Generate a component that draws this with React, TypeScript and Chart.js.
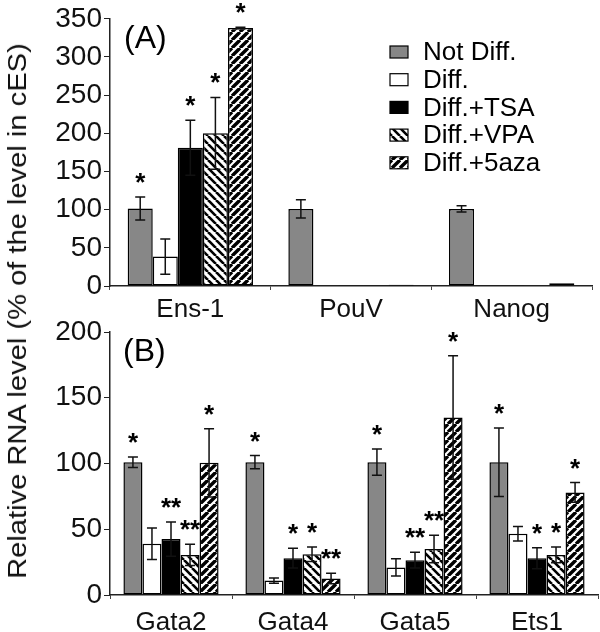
import React, { useEffect, useRef } from 'react';
import { Chart, registerables } from 'chart.js';

Chart.register(...registerables);

const FONT = "'Liberation Sans', Arial, Helvetica, sans-serif";

const seriesNames = ['Not Diff.', 'Diff.', 'Diff.+TSA', 'Diff.+VPA', 'Diff.+5aza'];

// Panel A
const topCategories = ['Ens-1', 'PouV', 'Nanog'];
const topNotDiff = [101.5, 101, 101];
const topNotDiffErr = [15, 12, 4];
const topDiff = [38.5, 0.6, 0.3];
const topDiffErr = [23, 0, 0];
const topTSA = [181, 0.4, 0.3];
const topTSAErr = [36, 0, 0];
const topVPA = [200, 1, 0.5];
const topVPAErr = [47, 0, 0];
const topAza = [338, 1.8, 3.5];
const topAzaErr = [1, 0, 0];
const topTicks = [0, 50, 100, 150, 200, 250, 300, 350];
const topStarsNotDiff = ['*', '', ''];
const topStarsDiff = ['', '', ''];
const topStarsTSA = ['*', '', ''];
const topStarsVPA = ['*', '', ''];
const topStarsAza = ['*', '', ''];

// Panel B
const bottomCategories = ['Gata2', 'Gata4', 'Gata5', 'Ets1'];
const bottomNotDiff = [101, 101, 101, 101];
const bottomNotDiffErr = [4, 5, 10, 26];
const bottomDiff = [39, 11, 21, 46.5];
const bottomDiffErr = [12, 2, 6.5, 5.5];
const bottomTSA = [42.5, 28, 26.5, 28];
const bottomTSAErr = [13, 7.5, 6, 8];
const bottomVPA = [30.5, 31, 35, 30.5];
const bottomVPAErr = [8, 5.5, 10.5, 6];
const bottomAza = [100.5, 12.5, 135, 78];
const bottomAzaErr = [26, 4, 47, 7.5];
const bottomTicks = [0, 50, 100, 150, 200];
const bottomStarsNotDiff = ['*', '*', '*', '*'];
const bottomStarsDiff = ['', '', '', ''];
const bottomStarsTSA = ['**', '*', '**', '*'];
const bottomStarsVPA = ['**', '*', '**', '*'];
const bottomStarsAza = ['*', '**', '*', '*'];

const yTitle = 'Relative RNA level (% of the level in cES)';

function makeStripe(dir: 'back' | 'fwd', s: number, lw: number): CanvasPattern {
  const c = document.createElement('canvas');
  c.width = s;
  c.height = s;
  const g = c.getContext('2d')!;
  g.fillStyle = '#fff';
  g.fillRect(0, 0, s, s);
  g.strokeStyle = '#000';
  g.lineWidth = lw;
  g.beginPath();
  for (let k = -1; k <= 1; k++) {
    if (dir === 'fwd') {
      g.moveTo(k * s, s);
      g.lineTo(k * s + s, 0);
    } else {
      g.moveTo(k * s, 0);
      g.lineTo(k * s + s, s);
    }
  }
  g.stroke();
  return g.createPattern(c, 'repeat')!;
}

function makeFills() {
  return ['#878787', '#ffffff', '#000000', makeStripe('back', 8, 2.6), makeStripe('fwd', 8, 3.4)];
}

function errorPlugin(errors: number[][], stars: string[][]) {
  return {
    id: 'errs',
    afterDatasetsDraw(chart: any) {
      const ctx = chart.ctx as CanvasRenderingContext2D;
      const ys = chart.scales.y;
      ctx.save();
      chart.data.datasets.forEach((ds: any, di: number) => {
        const meta = chart.getDatasetMeta(di);
        meta.data.forEach((bar: any, i: number) => {
          const v = ds.data[i] as number;
          const e = errors[di][i];
          const x = bar.x;
          let topY = ys.getPixelForValue(v);
          if (e > 0) {
            const yt = ys.getPixelForValue(v + e);
            const yb = ys.getPixelForValue(Math.max(0, v - e));
            ctx.strokeStyle = '#111';
            ctx.lineWidth = 1.5;
            ctx.beginPath();
            ctx.moveTo(x, yt);
            ctx.lineTo(x, yb);
            ctx.moveTo(x - 5, yt);
            ctx.lineTo(x + 5, yt);
            ctx.moveTo(x - 5, yb);
            ctx.lineTo(x + 5, yb);
            ctx.stroke();
            topY = yt;
          }
          const s = stars[di][i];
          if (s) {
            ctx.fillStyle = '#000';
            ctx.font = `bold 26px ${FONT}`;
            ctx.textAlign = 'center';
            ctx.textBaseline = 'alphabetic';
            ctx.fillText(s, x, topY - 6);
          }
        });
      });
      ctx.restore();
    },
  };
}

function labelPlugin(text: string, x: number, y: number) {
  return {
    id: 'panelLabel',
    afterDraw(chart: any) {
      const ctx = chart.ctx as CanvasRenderingContext2D;
      ctx.save();
      ctx.fillStyle = '#000';
      ctx.font = `32px ${FONT}`;
      ctx.textAlign = 'left';
      ctx.textBaseline = 'middle';
      ctx.fillText(text, x, y);
      ctx.restore();
    },
  };
}

function legendPlugin(fills: any[]) {
  return {
    id: 'customLegend',
    afterDraw(chart: any) {
      const ctx = chart.ctx as CanvasRenderingContext2D;
      ctx.save();
      const x0 = 390;
      const y0 = 52;
      const step = 27.7;
      seriesNames.forEach((name, i) => {
        const cy = y0 + i * step;
        ctx.fillStyle = fills[i];
        ctx.fillRect(x0, cy - 6, 18, 12);
        ctx.strokeStyle = '#000';
        ctx.lineWidth = 1.2;
        ctx.strokeRect(x0, cy - 6, 18, 12);
        ctx.fillStyle = '#000';
        ctx.font = `26px ${FONT}`;
        ctx.textAlign = 'left';
        ctx.textBaseline = 'middle';
        ctx.fillText(name, x0 + 33, cy + 1);
      });
      ctx.restore();
    },
  };
}

function buildConfig(
  categories: string[],
  series: number[][],
  ticks: number[],
  fills: any[],
  padding: any,
  xHeight: number,
  xPad: number,
  plugins: any[]
): any {
  return {
    type: 'bar',
    data: {
      labels: categories,
      datasets: series.map((d, i) => ({
        label: seriesNames[i],
        data: d,
        backgroundColor: fills[i],
        borderColor: '#000',
        borderWidth: 1.5,
        borderSkipped: false,
        categoryPercentage: 0.78,
        barPercentage: 1,
      })),
    },
    options: {
      responsive: false,
      animation: false,
      layout: { padding },
      plugins: { legend: { display: false }, tooltip: { enabled: false } },
      scales: {
        x: {
          grid: { offset: true, drawOnChartArea: false, drawTicks: true, tickLength: 4, color: '#444' },
          border: { display: true, color: '#222', width: 1.5 },
          ticks: { font: { family: FONT, size: 26 }, color: '#111', padding: xPad, maxRotation: 0 },
          afterFit: (s: any) => {
            s.height = xHeight;
          },
        },
        y: {
          min: ticks[0],
          max: ticks[ticks.length - 1],
          afterBuildTicks: (s: any) => {
            s.ticks = ticks.map((v) => ({ value: v }));
          },
          grid: { drawOnChartArea: false, drawTicks: true, tickLength: 6, color: '#222' },
          border: { display: true, color: '#222', width: 1.5 },
          ticks: { font: { family: FONT, size: 28 }, color: '#111', padding: 2 },
          afterFit: (s: any) => {
            s.width = 110;
          },
        },
      },
    },
    plugins,
  };
}

export default function App() {
  const topRef = useRef<HTMLCanvasElement>(null);
  const botRef = useRef<HTMLCanvasElement>(null);

  useEffect(() => {
    const fills = makeFills();
    const topChart = new Chart(
      topRef.current!,
      buildConfig(
        topCategories,
        [topNotDiff, topDiff, topTSA, topVPA, topAza],
        topTicks,
        fills,
        { top: 15, left: 0, right: 8, bottom: 310 },
        36,
        4,
        [
          errorPlugin(
            [topNotDiffErr, topDiffErr, topTSAErr, topVPAErr, topAzaErr],
            [topStarsNotDiff, topStarsDiff, topStarsTSA, topStarsVPA, topStarsAza]
          ),
          labelPlugin('(A)', 124, 39),
          legendPlugin(fills),
        ]
      )
    );
    const botChart = new Chart(
      botRef.current!,
      buildConfig(
        bottomCategories,
        [bottomNotDiff, bottomDiff, bottomTSA, bottomVPA, bottomAza],
        bottomTicks,
        fills,
        { top: 332, left: 0, right: 2, bottom: 0 },
        37,
        8,
        [
          errorPlugin(
            [bottomNotDiffErr, bottomDiffErr, bottomTSAErr, bottomVPAErr, bottomAzaErr],
            [bottomStarsNotDiff, bottomStarsDiff, bottomStarsTSA, bottomStarsVPA, bottomStarsAza]
          ),
          labelPlugin('(B)', 123, 352),
        ]
      )
    );
    return () => {
      topChart.destroy();
      botChart.destroy();
    };
  }, []);

  return (
    <div style={{ position: 'absolute', left: 0, top: 0, width: 600, height: 632, background: '#fff', overflow: 'hidden' }}>
      <canvas ref={topRef} width={600} height={632} style={{ position: 'absolute', left: 0, top: 0 }} />
      <canvas ref={botRef} width={600} height={632} style={{ position: 'absolute', left: 0, top: 0 }} />
      <div
        style={{
          position: 'absolute',
          left: 17,
          top: 311,
          transform: 'translate(-50%, -50%) rotate(-90deg) scaleX(1.12)',
          whiteSpace: 'nowrap',
          fontFamily: FONT,
          fontSize: 26,
          color: '#111',
          lineHeight: 1,
        }}
      >
        {yTitle}
      </div>
    </div>
  );
}
